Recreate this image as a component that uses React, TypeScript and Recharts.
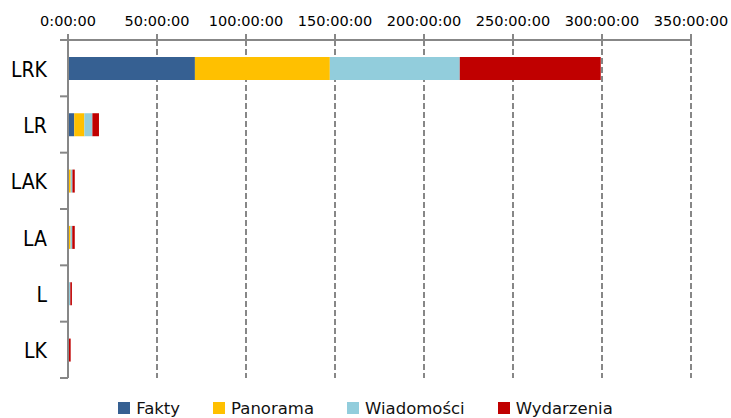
import { BarChart, Bar, XAxis, YAxis, CartesianGrid, Legend } from 'recharts'

const CATEGORIES = ['LRK', 'LR', 'LAK', 'LA', 'L', 'LK']

// czas emisji w godzinach
const FAKTY = [71.3, 3.5, 0.2, 0.2, 0.1, 0.1]
const PANORAMA = [75.8, 5.7, 1.3, 1.2, 0.2, 0]
const WIADOMOSCI = [73, 4.5, 1.0, 1.0, 1.0, 0.2]
const WYDARZENIA = [79.2, 3.7, 1.3, 1.4, 0.9, 1.2]

const HOUR_TICKS = [0, 50, 100, 150, 200, 250, 300, 350]

const SERIES = [
  { key: 'Fakty', color: '#366092' },
  { key: 'Panorama', color: '#FFC000' },
  { key: 'Wiadomości', color: '#92CDDC' },
  { key: 'Wydarzenia', color: '#C00000' },
]

const data = CATEGORIES.map((name, i) => ({
  name,
  Fakty: FAKTY[i],
  Panorama: PANORAMA[i],
  'Wiadomości': WIADOMOSCI[i],
  Wydarzenia: WYDARZENIA[i],
}))

const FONT = "'DejaVu Sans', sans-serif"
const FONT_NARROW = "'DejaVu Sans Condensed', 'DejaVu Sans', sans-serif"
const AXIS_COLOR = '#878787'
const W = 731
const H = 418
const TOP = 40
const BOTTOM = 40
const Y_TICK_SIZE = 8
const Y_TICK_MARGIN = 13
const BAND = (H - TOP - BOTTOM) / CATEGORIES.length

function CategoryTick(props: any) {
  const { x, y, payload, index } = props
  const axisX = x + Y_TICK_SIZE + Y_TICK_MARGIN
  return (
    <g>
      <line x1={axisX - Y_TICK_SIZE} x2={axisX} y1={y - BAND / 2} y2={y - BAND / 2} stroke={AXIS_COLOR} strokeWidth={2} />
      {index === CATEGORIES.length - 1 && (
        <line x1={axisX - Y_TICK_SIZE} x2={axisX} y1={y + BAND / 2} y2={y + BAND / 2} stroke={AXIS_COLOR} strokeWidth={2} />
      )}
      <text x={x} y={y} dy="0.4em" textAnchor="end" fill="#000" fontSize={21} fontFamily={FONT_NARROW}>
        {payload.value}
      </text>
    </g>
  )
}

function renderLegend({ payload }: any) {
  return (
    <div style={{ display: 'flex', justifyContent: 'center', gap: 33, fontFamily: FONT, fontSize: 16.5, lineHeight: '20px', color: '#111' }}>
      {payload.map((entry: any) => (
        <span key={entry.value} style={{ display: 'inline-flex', alignItems: 'flex-start' }}>
          <span style={{ width: 12, height: 12, background: entry.color, marginRight: 6, marginTop: 3, display: 'inline-block' }} />
          <span>{entry.value}</span>
        </span>
      ))}
    </div>
  )
}

export default function App() {
  return (
    <div style={{ position: 'absolute', left: 0, top: 0, width: W, height: H, background: '#fff', overflow: 'hidden' }}>
      <BarChart
        width={W}
        height={H}
        data={data}
        layout="vertical"
        margin={{ top: 0, right: 40, bottom: BOTTOM, left: 0 }}
        barCategoryGap="30%"
      >
        <CartesianGrid horizontal={false} stroke={AXIS_COLOR} strokeWidth={2} strokeDasharray="6 3" />
        <XAxis
          type="number"
          orientation="top"
          domain={[0, 350]}
          ticks={HOUR_TICKS}
          height={TOP}
          tickFormatter={(h: number) => `${h}:00:00`}
          tick={{ fill: '#000', fontSize: 14.5, fontFamily: FONT }}
          tickSize={6}
          tickMargin={8}
          axisLine={{ stroke: AXIS_COLOR, strokeWidth: 2 }}
          tickLine={{ stroke: AXIS_COLOR, strokeWidth: 2 }}
          interval={0}
        />
        <XAxis
          xAxisId="bottom"
          type="number"
          orientation="bottom"
          domain={[0, 350]}
          height={0}
          tick={false}
          tickLine={false}
          axisLine={{ stroke: AXIS_COLOR, strokeWidth: 2 }}
        />
        <YAxis
          type="category"
          dataKey="name"
          width={68}
          tick={<CategoryTick />}
          tickLine={false}
          tickSize={Y_TICK_SIZE}
          tickMargin={Y_TICK_MARGIN}
          axisLine={{ stroke: AXIS_COLOR, strokeWidth: 2 }}
          interval={0}
        />
        <YAxis
          yAxisId="right"
          type="category"
          dataKey="name"
          orientation="right"
          width={0}
          tick={false}
          tickLine={false}
          axisLine={{ stroke: AXIS_COLOR, strokeWidth: 2 }}
        />
        <Legend
          verticalAlign="middle"
          align="center"
          layout="horizontal"
          content={renderLegend}
          wrapperStyle={{ top: 399, left: 0, width: W }}
        />
        {SERIES.map((s) => (
          <Bar key={s.key} dataKey={s.key} stackId="a" fill={s.color} isAnimationActive={false} />
        ))}
      </BarChart>
    </div>
  )
}
